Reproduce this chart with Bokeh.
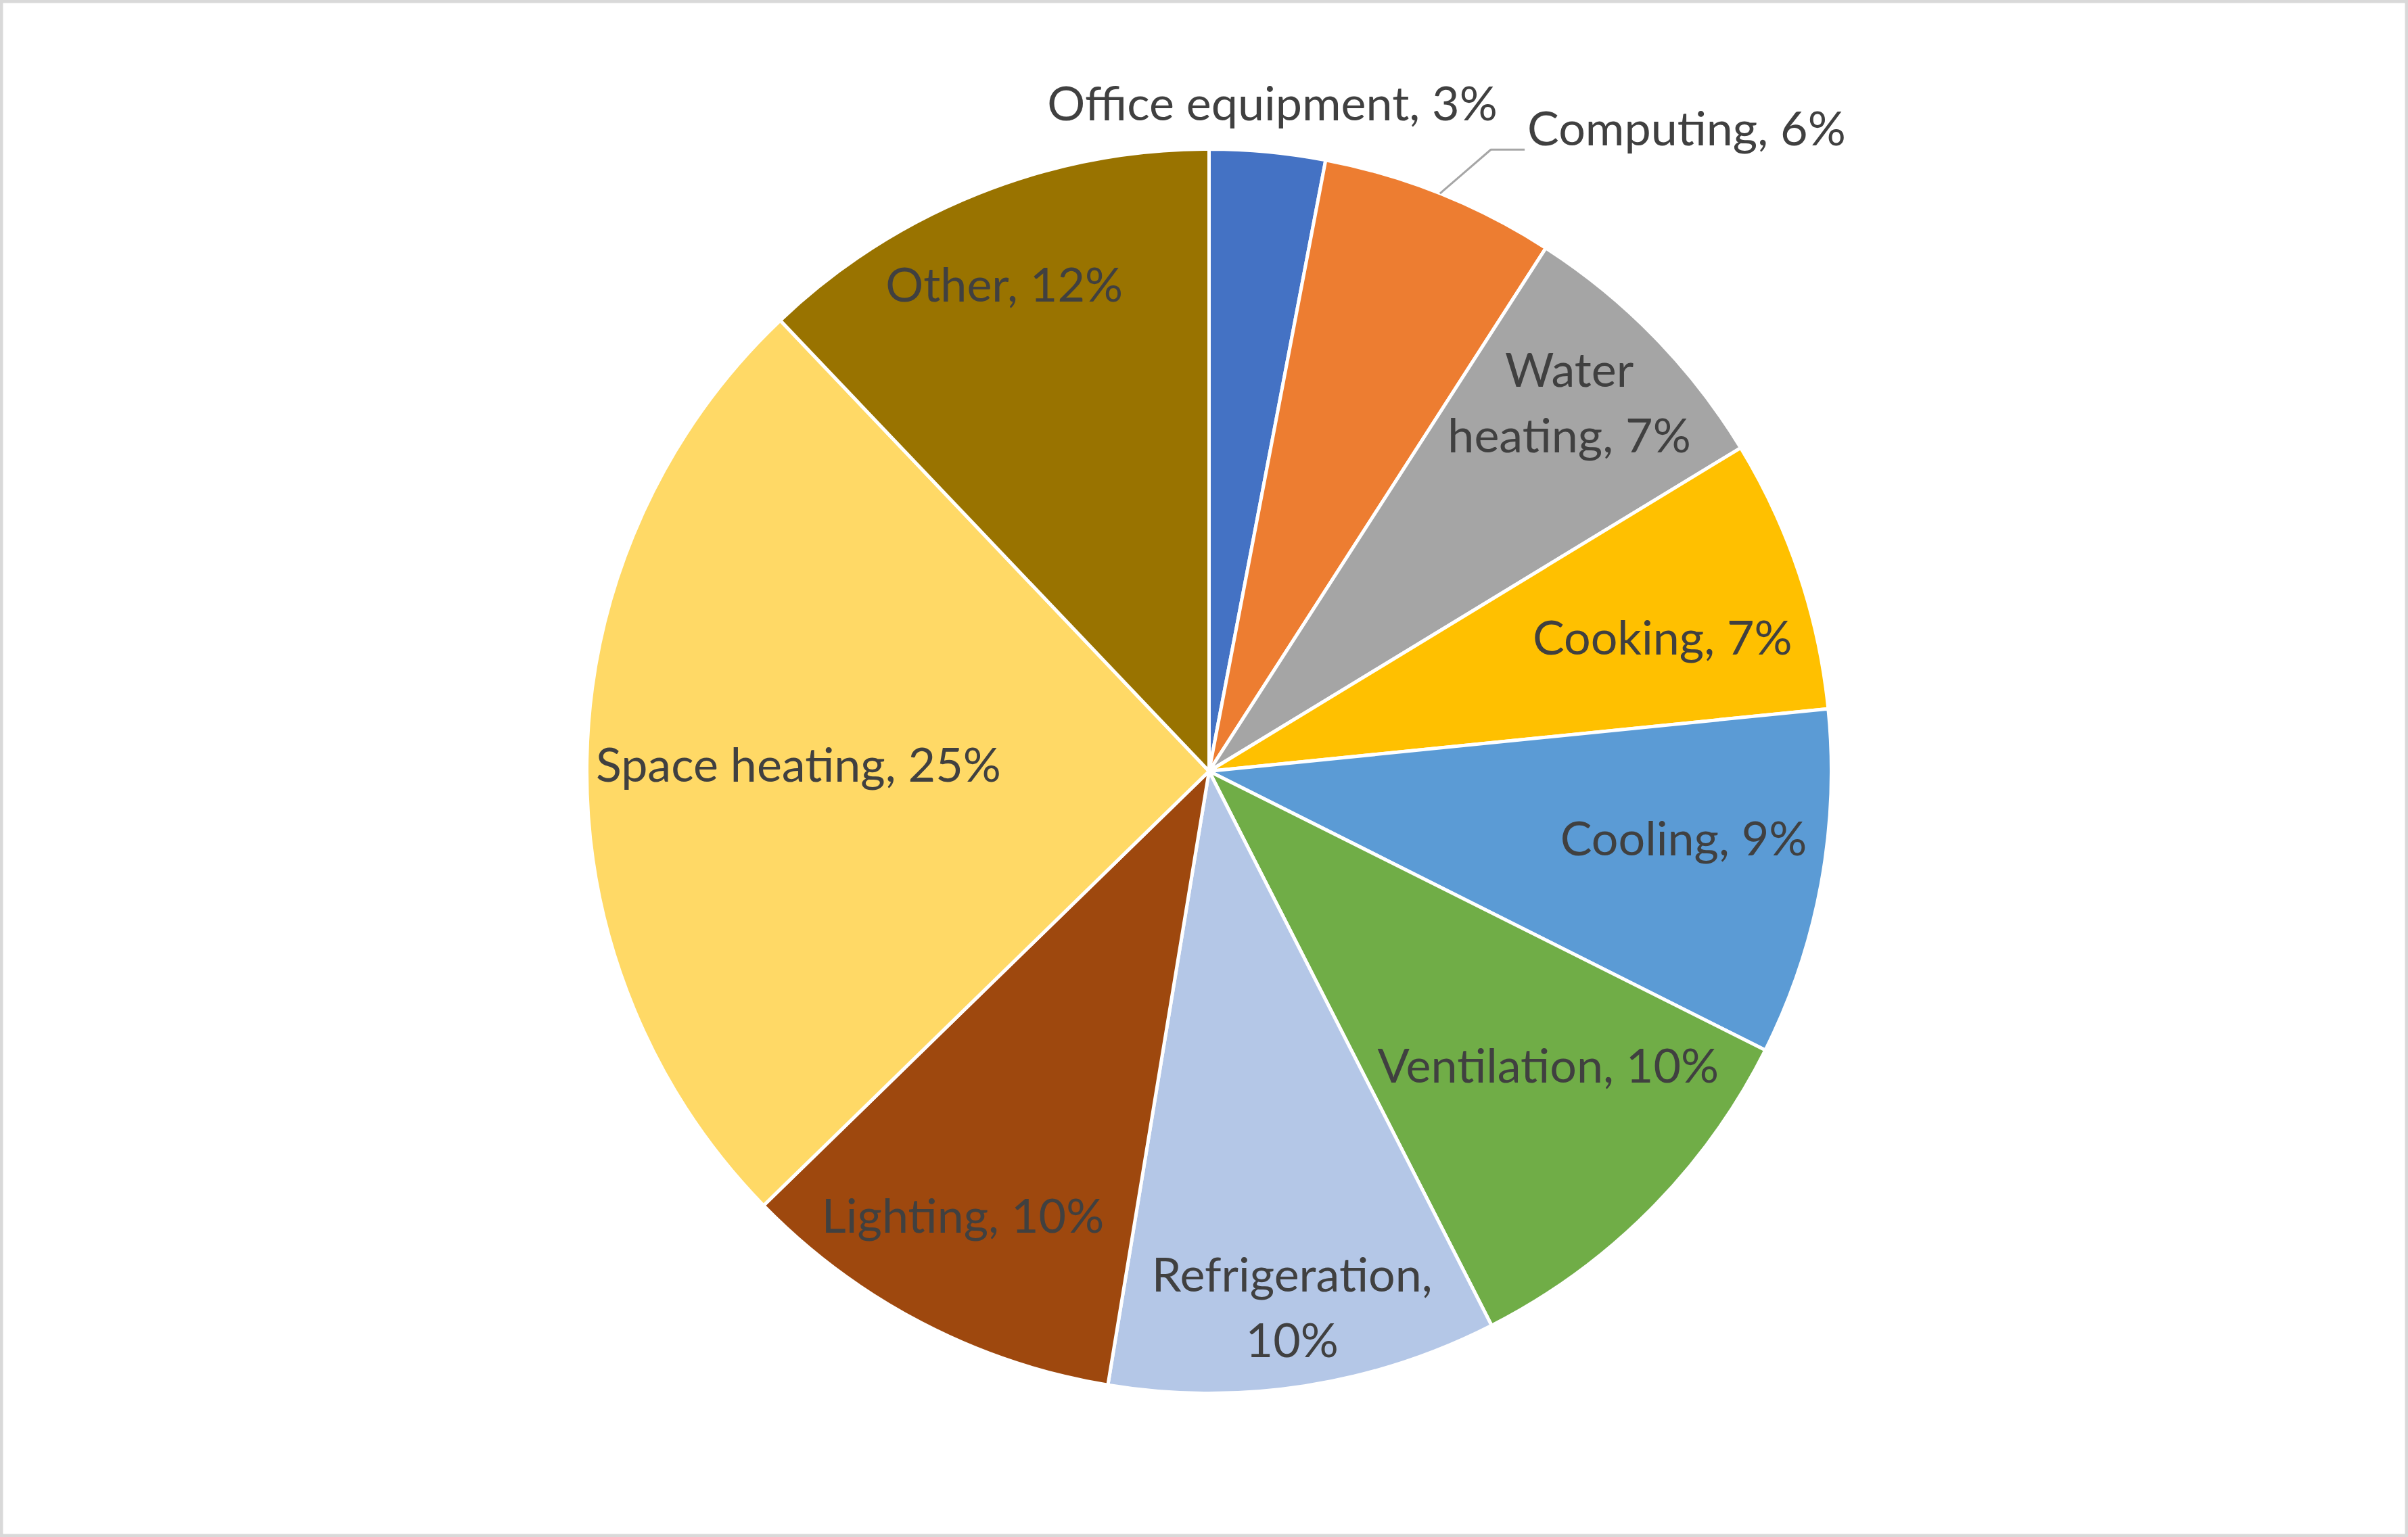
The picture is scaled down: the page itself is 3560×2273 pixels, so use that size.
import math
from bokeh.plotting import figure
from bokeh.models import Range1d, ColumnDataSource
from bokeh.core.properties import value
from bokeh.embed import file_html
from bokeh.resources import INLINE

# ---- data ----
categories = ["Office equipment", "Computing", "Water heating", "Cooking", "Cooling",
              "Ventilation", "Refrigeration", "Lighting", "Space heating", "Other"]
shares = [3.0, 6.1, 7.2, 7.1, 9.0, 10.1, 10.1, 10.1, 25.2, 12.1]
colors = ["#4472C4", "#ED7D31", "#A5A5A5", "#FFC000", "#5B9BD5",
          "#70AD47", "#B4C7E7", "#9E480E", "#FFD966", "#997300"]
# label line breaks as in the reference
label_texts = ["Office equipment, 3%", "Computing, 6%", "Water\nheating, 7%", "Cooking, 7%",
               "Cooling, 9%", "Ventilation, 10%", "Refrigeration,\n10%", "Lighting, 10%",
               "Space heating, 25%", "Other, 12%"]

# ---- layout (styling, not data) ----
W, H = 3560, 2273
CX, CY, R = 1787, H - 1140, 920
label_r = [1.08, 1.097, 0.83, 0.76, 0.77, 0.72, 0.87, 0.815, 0.66, 0.85]
label_dtheta = [0, 2.6, -1.5, 2.0, -2.5, -4.0, 0.0, 1.5, 0, -1.0]

total = sum(shares)
starts, ends, mids = [], [], []
acc = 0.0
for s in shares:
    starts.append(acc / total * 360.0)
    acc += s
    ends.append(acc / total * 360.0)
    mids.append((starts[-1] + ends[-1]) / 2.0)

# Bokeh angles: counter-clockwise from +x; pie goes clockwise from 12 o'clock
src = ColumnDataSource(dict(
    start=[math.radians(90 - a) for a in starts],
    end=[math.radians(90 - a) for a in ends],
    color=colors,
    name=categories,
))

p = figure(width=W, height=H, output_backend="svg", toolbar_location=None,
           x_range=Range1d(0, W), y_range=Range1d(0, H), min_border=0,
           background_fill_color="white", border_fill_color="white")
p.axis.visible = False
p.grid.visible = False
p.outline_line_color = "#d9d9d9"
p.outline_line_width = 8

p.wedge(x=CX, y=CY, radius=R, start_angle="start", end_angle="end", direction="clock",
        fill_color="color", line_color="white", line_width=5, source=src)

font = value("Lato")
fsize = "70px"
txt_color = "#404040"

lx, ly, lt = [], [], []
for i, name in enumerate(categories):
    th = math.radians(mids[i] + label_dtheta[i])
    if name == "Computing":
        # leader line from slice edge, elbow, then horizontal
        th0 = math.radians(mids[i])
        x0, y0 = CX + R * math.sin(th0), CY + R * math.cos(th0)
        x1, y1 = CX + R * label_r[i] * math.sin(th), CY + R * label_r[i] * math.cos(th)
        x2, y2 = x1 + 50, y1
        p.line(x=[x0, x1, x2], y=[y0, y1, y2], line_color="#A6A6A6", line_width=3)
        p.text(x=[x2 + 4], y=[y2 + 33], text=[label_texts[i]], text_font=font,
               text_font_size=fsize, text_color=txt_color, text_align="left",
               text_baseline="middle")
        continue
    lx.append(CX + R * label_r[i] * math.sin(th))
    ly.append(CY + R * label_r[i] * math.cos(th))
    lt.append(label_texts[i])

p.text(x=lx, y=ly, text=lt, text_font=font, text_font_size=fsize, text_color=txt_color,
       text_align="center", text_baseline="middle", text_line_height=1.15)

open("out.html", "w").write(file_html(p, INLINE))
